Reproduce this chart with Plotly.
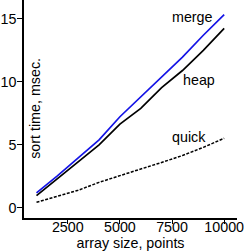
import plotly.graph_objects as go

sizes = [1000, 2000, 3000, 4000, 5000, 6000, 7000, 8000, 9000, 10000]
merge = [1.18, 2.53, 3.97, 5.39, 7.23, 8.8, 10.4, 11.97, 13.7, 15.34]
heap = [0.97, 2.31, 3.63, 5.0, 6.65, 7.9, 9.55, 10.9, 12.5, 14.25]
quick = [0.44, 0.92, 1.39, 2.02, 2.57, 3.08, 3.6, 4.15, 4.8, 5.52]
x_ticks = [2500, 5000, 7500, 10000]
y_ticks = [0, 5, 10, 15]

FONT = "Liberation Sans, Arial, Helvetica, sans-serif"
FS = 14.3

fig = go.Figure()
fig.add_trace(go.Scatter(x=sizes, y=heap, mode="lines", line=dict(color="black", width=1.7)))
fig.add_trace(go.Scatter(x=sizes, y=merge, mode="lines", line=dict(color="#1414e6", width=1.7)))
fig.add_trace(go.Scatter(x=sizes, y=quick, mode="lines", line=dict(color="black", width=1.5, dash="3px,1.5px")))

fig.add_annotation(x=8487, y=15.18, text="merge", showarrow=False, xanchor="center", yanchor="middle")
fig.add_annotation(x=8771, y=10.15, text="heap", showarrow=False, xanchor="center", yanchor="middle")
fig.add_annotation(x=8317, y=5.65, text="quick", showarrow=False, xanchor="center", yanchor="middle")
fig.add_annotation(x=953, y=7.9, text="sort time, msec.", textangle=-90, showarrow=False,
                   xanchor="center", yanchor="middle")

fig.update_layout(
    width=244, height=251,
    margin=dict(l=21, r=7, t=0, b=33),
    paper_bgcolor="white", plot_bgcolor="white",
    showlegend=False,
    font=dict(family=FONT, size=FS, color="black"),
    xaxis=dict(range=[400, 10615], tickmode="array", tickvals=x_ticks, ticktext=[str(v) for v in x_ticks],
               showgrid=False, zeroline=False, showline=True, linecolor="black", linewidth=1.5,
               ticks="", ticklabeloverflow="allow", ticklabelstandoff=-5,
               minor=dict(tickmode="array", tickvals=x_ticks, ticks="outside", ticklen=4,
                          tickwidth=1, tickcolor="black", showgrid=False),
               title=dict(text="array size, points", standoff=5, font=dict(size=FS))),
    yaxis=dict(range=[-0.81, 16.5], tickmode="array", tickvals=y_ticks, ticktext=[str(v) for v in y_ticks],
               showgrid=False, zeroline=False, showline=True, linecolor="black", linewidth=1.5,
               ticks="", ticklabelstandoff=3, ticklabeloverflow="allow",
               minor=dict(tickmode="array", tickvals=y_ticks, ticks="outside", ticklen=5,
                          tickwidth=1, tickcolor="black", showgrid=False)),
)

fig.write_html("out.html")
